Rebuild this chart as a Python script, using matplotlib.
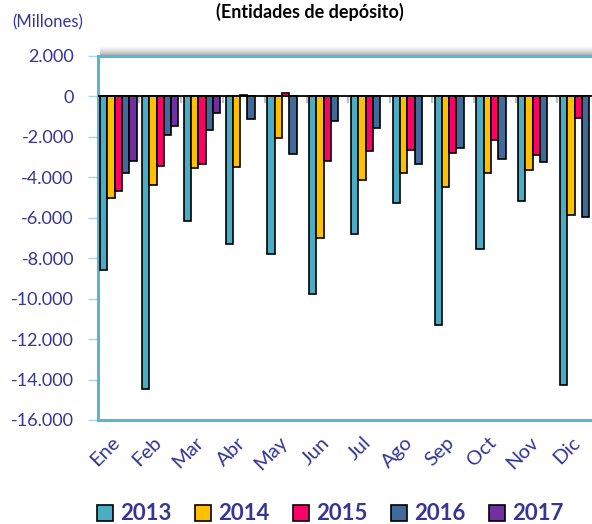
import numpy as np
import matplotlib
matplotlib.use("Agg")
import matplotlib.pyplot as plt
from matplotlib.lines import Line2D
from matplotlib.transforms import ScaledTranslation

plt.rcParams['font.family'] = ['Lato', 'DejaVu Sans']

months = ["Ene", "Feb", "Mar", "Abr", "May", "Jun", "Jul", "Ago", "Sep", "Oct", "Nov", "Dic"]
years = ["2013", "2014", "2015", "2016", "2017"]

v2013 = [-8580, -14450, -6150, -7310, -7780, -9790, -6810, -5290, -11310, -7520, -5160, -14260]
v2014 = [-5040, -4360, -3540, -3510, -2050, -7010, -4140, -3800, -4500, -3790, -3620, -5870]
v2015 = [-4660, -3440, -3340, 50, 180, -3210, -2680, -2650, -2810, -2150, -2910, -1080]
v2016 = [-3770, -1890, -1650, -1110, -2850, -1210, -1560, -3360, -2550, -3090, -3240, -5970]
v2017 = [-3170, -1440, -830, np.nan, np.nan, np.nan, np.nan, np.nan, np.nan, np.nan, np.nan, np.nan]

series = [v2013, v2014, v2015, v2016, v2017]
colors = ["#4BACC6", "#FFC000", "#FF0066", "#3F6A9A", "#7030A0"]
yticks = np.arange(-16000, 2001, 2000)

txt = "#353597"
frame = "#5BB5CF"

fig = plt.figure(figsize=(5.92, 5.24), dpi=100)
W, H = 592, 524
ax = fig.add_axes([97.5 / W, (H - 420) / H, 501.6 / W, 364 / H])

x = np.arange(len(months))
w = 0.175
for i, (vals, c, yr) in enumerate(zip(series, colors, years)):
    ax.bar(x + (i - 2) * w, vals, width=w, color=c, edgecolor="black",
           linewidth=1.2, label=yr, zorder=3)

ax.axhline(0, color="black", lw=1.3, zorder=4)
# little gray category ticks hanging from the zero line
ax.vlines(np.arange(len(months) + 1) - 0.5, -346, 0, color="#BFBFBF", lw=1.5, zorder=2)

ax.set_xlim(-0.5, len(months) - 0.5)
ax.set_ylim(-16000, 2000)
ax.set_yticks(yticks)
ax.set_yticklabels([f"{v:,.0f}".replace(",", ".") for v in yticks])
ax.tick_params(axis="y", colors="#A8D8E6", length=7, width=1, pad=10,
               labelcolor=txt, labelsize=13)
ax.set_xticks(x)
ax.set_xticklabels(months, rotation=45, ha="right", color=txt, fontsize=14.5)
ax.tick_params(axis="x", length=0, pad=10)
for lab in ax.get_xticklabels():
    lab.set_transform(lab.get_transform() + ScaledTranslation(0.05, 0, fig.dpi_scale_trans))

for s in ["left", "bottom", "top"]:
    ax.spines[s].set_color(frame)
    ax.spines[s].set_linewidth(2.2)
ax.spines["right"].set_visible(False)

# shadow above the top frame
sh = fig.add_axes([100 / W, (H - 55) / H, (W - 100) / W, 9 / H])
grad = np.linspace(0.02, 0.42, 50).reshape(-1, 1)
sh.imshow(grad, aspect="auto", cmap="Greys", vmin=0, vmax=1,
          extent=[0, 1, 0, 1], origin="upper")
sh.axis("off")

fig.text(310 / W, 1 - 12 / H, "(Entidades de depósito)", ha="center", va="center",
         fontsize=13, fontweight="bold", color="black")
fig.text(12 / W, 1 - 22 / H, "(Millones)", ha="left", va="center",
         fontsize=12, color=txt)

handles = [Line2D([], [], marker="s", ls="none", markersize=11, markerfacecolor=c,
                  markeredgecolor="black", markeredgewidth=1.2) for c in colors]
leg = fig.legend(handles, years, loc="center", bbox_to_anchor=(330 / W, 1 - 514 / H),
                 ncol=5, frameon=False, handlelength=0.75, handletextpad=0.3,
                 columnspacing=1.05, prop={"size": 16, "weight": "bold"})
for t in leg.get_texts():
    t.set_color(txt)

fig.savefig("out.png", dpi=100)
